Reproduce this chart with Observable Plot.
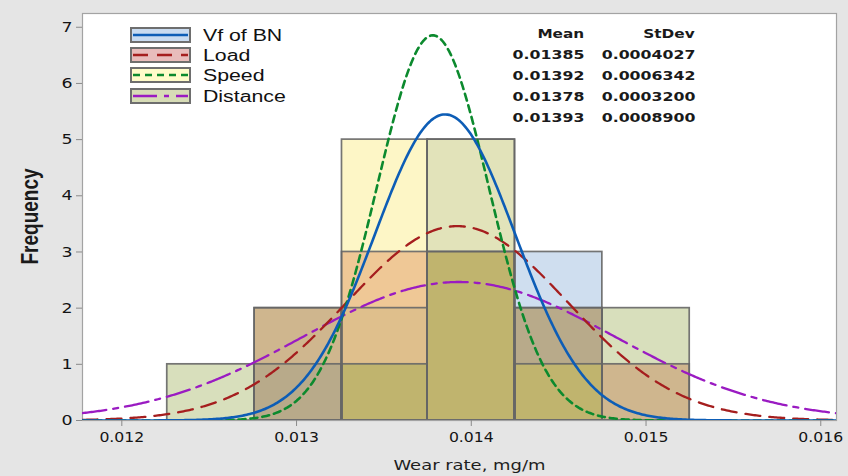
<!DOCTYPE html>
<html>
<head>
<meta charset="utf-8">
<script src="https://cdn.jsdelivr.net/npm/d3@7"></script>
<script src="https://cdn.jsdelivr.net/npm/@observablehq/plot@0.6"></script>
<style>
html,body{margin:0;padding:0;background:#e5e5e5;}
#wrap{position:relative;width:848px;height:476px;overflow:hidden;background:#e5e5e5;}
#wrap svg{position:absolute;left:0;top:0;}
.ov{position:absolute;white-space:nowrap;line-height:1;}
.box{position:absolute;box-sizing:border-box;border:2px solid #6e6e6e;}
</style>
</head>
<body>
<div id="wrap"></div>
<script>
// ---------------- data ----------------
const seriesNames = ["Vf of BN", "Load", "Speed", "Distance"];
const seriesKeys = ["B", "L", "S", "D"];
const meanLabels = ["0.01385", "0.01392", "0.01378", "0.01393"];
const stdevLabels = ["0.0004027", "0.0006342", "0.0003200", "0.0008900"];
const means = [0.01385, 0.01392, 0.01378, 0.01393];
const stdevs = [0.0004027, 0.0006342, 0.0003200, 0.0008900];
const sampleSize = [11, 11, 11, 11];
const binWidth = 0.0005;
const binEdges = [0.01226, 0.01276, 0.01326, 0.01375, 0.01425, 0.01475, 0.01525];
const countsVf = [0, 1, 1, 5, 3, 0];
const countsLoad = [0, 2, 3, 3, 2, 1];
const countsSpeed = [0, 0, 5, 5, 1, 0];
const countsDistance = [1, 2, 2, 3, 2, 2];
const xTicks = [0.012, 0.013, 0.014, 0.015, 0.016];
const yTicks = [0, 1, 2, 3, 4, 5, 6, 7];
const xDomain = [0.011775, 0.01609];
const yDomain = [0, 7.245];

// ---------------- styles ----------------
const lineColors = ["#0d5db6", "#a51e1e", "#0c8a2e", "#9a1bc2"];
const lineWidths = [2.6, 2.3, 2.6, 2.3];
const lineDash = [null, "15,9", "7,5", "24,7,5,7"];
const legendFills = ["#c9dbf0", "#e8bcbb", "#fffbc9", "#d7dcb6"];
const comboColors = {
  B: "#cfdeef", L: "#e9c2bf", S: "#fdf6c6", D: "#d8dfbc",
  LD: "#cfb68e", BLD: "#b8aa8a", LS: "#efc896", LSD: "#dfbf8c",
  BLSD: "#c0b46e", BS: "#e2e3ba", BL: "#d6c2c8", BD: "#c9d6c8",
  SD: "#e4e2b0", BLS: "#d9c59c", BSD: "#cfd0a0"
};

// ---------------- derived tables ----------------
const countsBySeries = [countsVf, countsLoad, countsSpeed, countsDistance];
const segments = [];
const outlines = [];
for (let b = 0; b < binEdges.length - 1; b++) {
  const hs = [...new Set(countsBySeries.map(c => c[b]).filter(v => v > 0))].sort((a, c) => a - c);
  let lo = 0;
  for (const h of hs) {
    const combo = seriesKeys.filter((k, i) => countsBySeries[i][b] >= h).join("");
    segments.push({x1: binEdges[b], x2: binEdges[b + 1], y1: lo, y2: h, combo});
    lo = h;
  }
  countsBySeries.forEach((c, i) => {
    if (c[b] > 0) outlines.push({x1: binEdges[b], x2: binEdges[b + 1], y2: c[b], s: i});
  });
}

// fitted normal curves from the table's mean / stdev
function curvePoints(i) {
  const n = 500;
  return d3.range(n + 1).map(k => {
    const x = xDomain[0] + (xDomain[1] - xDomain[0]) * k / n;
    const z = (x - means[i]) / stdevs[i];
    return {x, y: sampleSize[i] * binWidth * Math.exp(-0.5 * z * z) / (stdevs[i] * Math.sqrt(2 * Math.PI))};
  });
}
const drawOrder = [3, 1, 2, 0];
const curveMarks = drawOrder.map(i => Plot.line(curvePoints(i), {
  x: "x", y: "y", stroke: lineColors[i], strokeWidth: lineWidths[i],
  strokeDasharray: lineDash[i] || undefined, clip: true
}));

const chart = Plot.plot({
  width: 848, height: 476,
  marginLeft: 82, marginRight: 12, marginTop: 13, marginBottom: 56,
  style: {background: "transparent", fontFamily: "DejaVu Sans", fontSize: "14px", color: "#141414"},
  x: {domain: xDomain},
  y: {domain: yDomain},
  color: {type: "identity"},
  marks: [
    Plot.frame({fill: "white", stroke: "none"}),
    Plot.rect(segments, {x1: "x1", x2: "x2", y1: "y1", y2: "y2", fill: d => comboColors[d.combo] || "#cccccc"}),
    Plot.rect(outlines, {x1: "x1", x2: "x2", y1: 0, y2: "y2", fill: "none", stroke: "#666666", strokeWidth: 1.7, strokeOpacity: 0.9}),
    Plot.frame({stroke: "#a3a3a3", strokeWidth: 1.2}),
    ...curveMarks,
    Plot.axisX({ticks: xTicks, tickFormat: d => d.toFixed(3), tickSize: 6, tickPadding: 5, label: null, stroke: "#8a8a8a", fontSize: 14.5}),
    Plot.axisY({ticks: yTicks, tickFormat: d => String(d), tickSize: 6, tickPadding: 4, label: null, stroke: "#8a8a8a", fontSize: 14.5})
  ]
});
const wrap = document.getElementById("wrap");
wrap.appendChild(chart);

// stretch tick labels horizontally (reference is widened)
function stretchSvgTexts(sel, factor) {
  chart.querySelectorAll(sel).forEach(t => {
    const w = t.getComputedTextLength();
    if (w > 0) { t.setAttribute("textLength", w * factor); t.setAttribute("lengthAdjust", "spacingAndGlyphs"); }
  });
}
stretchSvgTexts('g[aria-label="x-axis tick label"] text', 1.08);
stretchSvgTexts('g[aria-label="y-axis tick label"] text', 1.2);

// ---------------- overlays: labels, legend, table ----------------
function addText(txt, o) {
  const s = document.createElement("span");
  s.className = "ov";
  s.textContent = txt;
  s.style.fontSize = o.size + "px";
  s.style.fontFamily = o.family;
  s.style.fontWeight = o.weight || "normal";
  s.style.color = o.color || "#1c1c1c";
  wrap.appendChild(s);
  const r = s.getBoundingClientRect();
  const w = r.width, h = r.height;
  const k = o.target ? o.target / w : (o.scale || 1);
  const anchor = o.anchor || "start";
  const left = anchor === "start" ? o.x : anchor === "end" ? o.x - w : o.x - w / 2;
  s.style.left = left + "px";
  s.style.top = (o.y - h / 2) + "px";
  s.style.transformOrigin = anchor === "start" ? "left center" : anchor === "end" ? "right center" : "center center";
  s.style.transform = (o.rotate ? `scaleX(${o.thick}) rotate(-90deg) ` : "") + `scaleX(${k})`;
  return s;
}

// axis titles
addText("Wear rate, mg/m", {x: 469, y: 465, anchor: "middle", size: 14.5, family: "DejaVu Sans", target: 152, color: "#1e1e1e"});
addText("Frequency", {x: 30, y: 216, anchor: "middle", size: 19, family: "Liberation Sans", weight: "bold", target: 96, rotate: true, thick: 1.3, color: "#1a1a1a"});

// legend
seriesNames.forEach((name, i) => {
  const top = 27 + i * 20.2;
  const box = document.createElement("div");
  box.className = "box";
  Object.assign(box.style, {left: "130px", top: top + "px", width: "61px", height: "16px", background: legendFills[i]});
  const ns = "http://www.w3.org/2000/svg";
  const sv = document.createElementNS(ns, "svg");
  sv.setAttribute("width", "57"); sv.setAttribute("height", "12");
  sv.style.position = "absolute"; sv.style.left = "0"; sv.style.top = "0";
  const ln = document.createElementNS(ns, "line");
  ln.setAttribute("x1", "1"); ln.setAttribute("x2", "56"); ln.setAttribute("y1", "6"); ln.setAttribute("y2", "6");
  ln.setAttribute("stroke", lineColors[i]); ln.setAttribute("stroke-width", lineWidths[i]);
  if (lineDash[i]) ln.setAttribute("stroke-dasharray", lineDash[i]);
  sv.appendChild(ln);
  box.appendChild(sv);
  wrap.appendChild(box);
  addText(name, {x: 203, y: top + 9, anchor: "start", size: 16, family: "Liberation Sans", scale: 1.33, color: "#111111"});
});

// statistics table
addText("Mean", {x: 584, y: 35, anchor: "end", size: 11.5, family: "DejaVu Sans", weight: "bold", scale: 1.33, color: "#1a1a1a"});
addText("StDev", {x: 695, y: 35, anchor: "end", size: 11.5, family: "DejaVu Sans", weight: "bold", scale: 1.33, color: "#1a1a1a"});
meanLabels.forEach((m, i) => {
  const y = 56 + i * 21;
  addText(m, {x: 584, y, anchor: "end", size: 11.5, family: "DejaVu Sans", weight: "bold", scale: 1.37, color: "#1a1a1a"});
  addText(stdevLabels[i], {x: 695, y, anchor: "end", size: 11.5, family: "DejaVu Sans", weight: "bold", scale: 1.37, color: "#1a1a1a"});
});
</script>
</body>
</html>
